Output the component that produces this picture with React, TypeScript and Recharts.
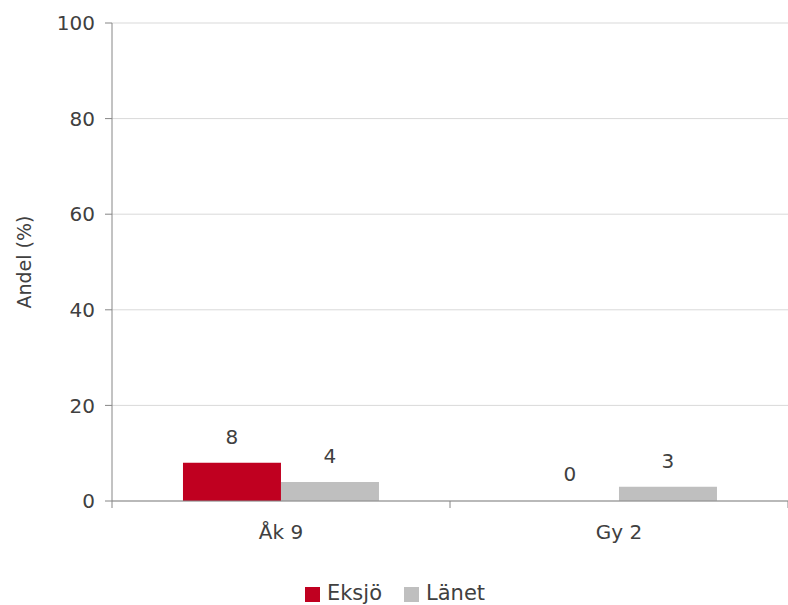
import { BarChart, Bar, XAxis, YAxis, CartesianGrid, Legend, LabelList, Rectangle } from "recharts";

const categories = ["Åk 9", "Gy 2"];
const eksjo = [8, 0];
const lanet = [4, 3];
const yTicks = [0, 20, 40, 60, 80, 100];

const data = categories.map((name, i) => ({ name, Eksjö: eksjo[i], Länet: lanet[i] }));

const FONT = "'DejaVu Sans', sans-serif";
const TEXT = "#404040";
const AXIS = "#868686";

// label above each bar, drawn even when the value is 0
const TopLabel = (props: any) => {
  const { x, y, width, value } = props;
  if (x == null || y == null) return null;
  return (
    <text x={Number(x) + Number(width) / 2} y={Number(y) - 19} textAnchor="middle" fill={TEXT} fontSize={20}>
      {value}
    </text>
  );
};

// zero values keep their label but draw no bar
const ZeroSafeShape = (props: any) => {
  const v = Array.isArray(props.value) ? props.value[1] - props.value[0] : props.value;
  return v ? <Rectangle {...props} /> : <g />;
};

// category tick: Excel style tick marks between categories, label under the centre
const CatTick = (props: any) => {
  const { x, y, payload, index, visibleTicksCount } = props;
  const half = payload?.offset ?? 0;
  return (
    <g>
      <line x1={x - half} x2={x - half} y1={y} y2={y + 7} stroke={AXIS} />
      {index === visibleTicksCount - 1 && <line x1={x + half} x2={x + half} y1={y} y2={y + 7} stroke={AXIS} />}
      <text x={x} y={y + 38} textAnchor="middle" fill={TEXT} fontSize={20}>
        {payload.value}
      </text>
    </g>
  );
};

export default function App() {
  return (
    <div style={{ position: "absolute", left: 0, top: 0, width: 788, height: 605, background: "#fff" }}>
      <BarChart
        width={788}
        height={605}
        data={data}
        margin={{ top: 23, right: 0, left: 0, bottom: 0 }}
        barCategoryGap="21%"
        barGap={0}
        style={{ fontFamily: FONT }}
      >
        <CartesianGrid vertical={false} stroke="#d9d9d9" />
        <XAxis
          dataKey="name"
          height={80}
          axisLine={{ stroke: AXIS }}
          tickLine={false}
          tickSize={0}
          tickMargin={0}
          tick={CatTick}
        />
        <YAxis
          domain={[0, 100]}
          ticks={yTicks}
          width={112}
          axisLine={{ stroke: AXIS }}
          tickLine={{ stroke: AXIS }}
          tickSize={7}
          tickMargin={10}
          tick={{ fill: TEXT, fontSize: 20 }}
          label={{ value: "Andel (%)", angle: -90, position: "insideLeft", offset: 24, style: { textAnchor: "middle", fill: TEXT, fontSize: 19 } }}
        />
        <Legend
          verticalAlign="bottom"
          align="center"
          iconType="square"
          iconSize={15}
          wrapperStyle={{ fontSize: 21, color: TEXT, paddingLeft: 12 }}
          formatter={(v) => <span style={{ color: TEXT, marginLeft: 3, marginRight: 12 }}>{v}</span>}
        />
        <Bar dataKey="Eksjö" fill="#C00020" isAnimationActive={false} minPointSize={1} shape={ZeroSafeShape}>
          <LabelList dataKey="Eksjö" content={TopLabel} />
        </Bar>
        <Bar dataKey="Länet" fill="#BFBFBF" isAnimationActive={false} shape={ZeroSafeShape}>
          <LabelList dataKey="Länet" content={TopLabel} />
        </Bar>
      </BarChart>
    </div>
  );
}
